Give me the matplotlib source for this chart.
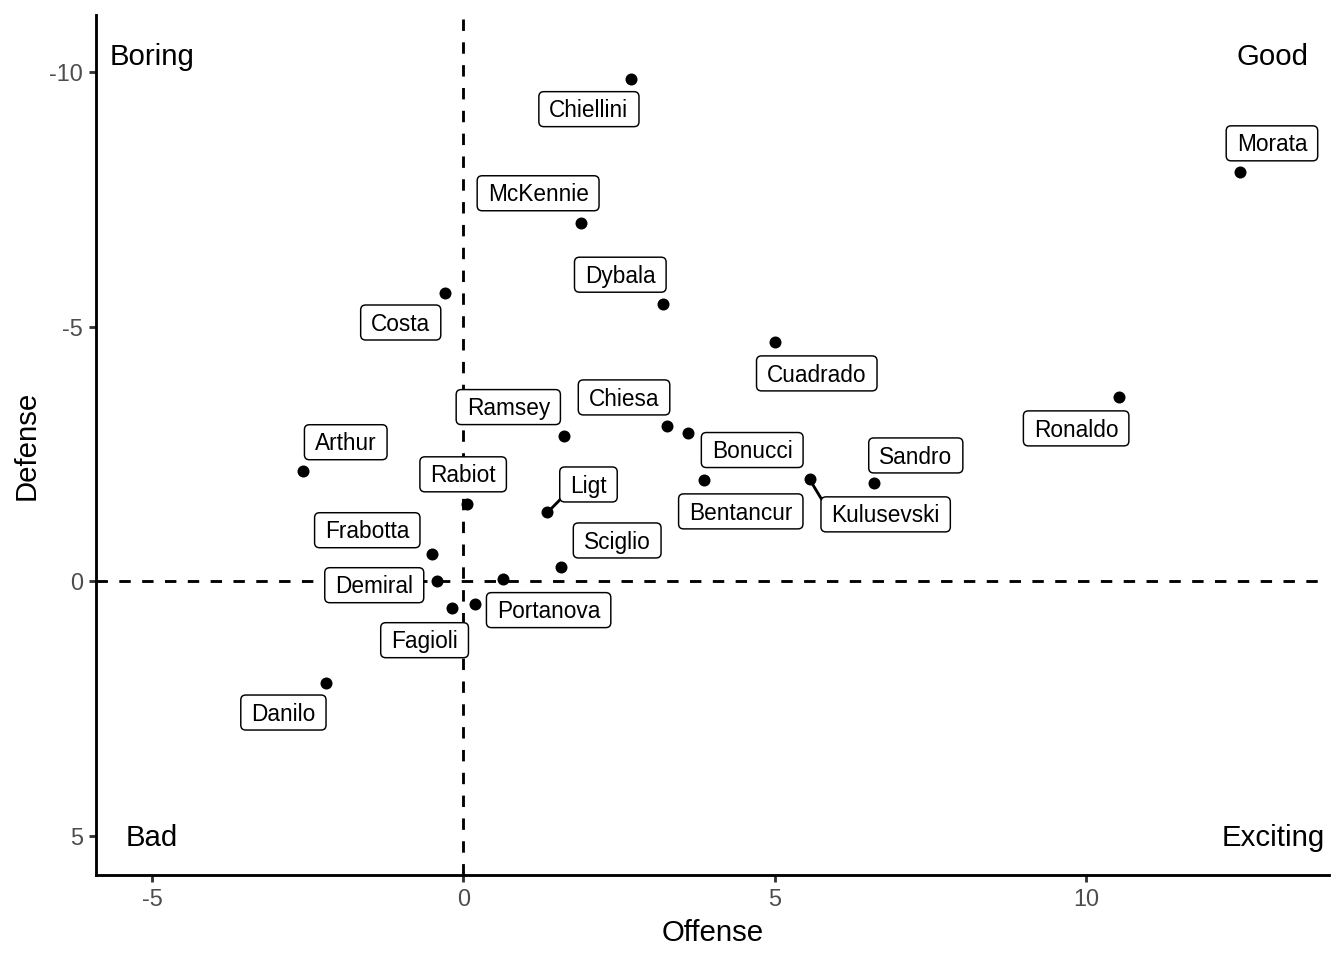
import matplotlib
matplotlib.use("Agg")
import matplotlib.pyplot as plt
from matplotlib.patches import FancyBboxPatch
from matplotlib.lines import Line2D
from matplotlib.transforms import IdentityTransform

plt.rcParams["font.family"] = ["Liberation Sans", "DejaVu Sans"]
plt.rcParams["axes.unicode_minus"] = False

# ---------------- data ----------------
players = ["Chiellini", "Morata", "McKennie", "Costa", "Dybala", "Cuadrado",
           "Ronaldo", "Ramsey", "Chiesa", "Bonucci", "Arthur", "Bentancur",
           "Kulusevski", "Sandro", "Rabiot", "Ligt", "Frabotta", "Sciglio",
           "Demiral", "", "Fagioli", "Portanova", "Danilo"]
offense = [2.69, 12.47, 1.89, -0.30, 3.21, 5.00,
           10.53, 1.62, 3.27, 3.61, -2.58, 3.86,
           5.56, 6.59, 0.06, 1.35, -0.50, 1.57,
           -0.42, 0.63, -0.19, 0.18, -2.20]
defense = [-9.86, -8.03, -7.03, -5.67, -5.45, -4.69,
           -3.61, -2.85, -3.04, -2.91, -2.16, -1.98,
           -2.00, -1.92, -1.51, -1.35, -0.53, -0.27,
           0.00, -0.04, 0.53, 0.45, 1.99]

quad_text = ["Boring", "Good", "Bad", "Exciting"]
quad_x = [-5, 13, -5, 13]
quad_y = [-10.35, -10.35, 5.0, 5.0]

x_ticks = [-5, 0, 5, 10]
y_ticks = [-10, -5, 0, 5]

# ---------------- layout (label placement, pixels: right, down) ----------------
label_offsets_px = {
    "Chiellini": (-42, 30), "Morata": (32, -29), "McKennie": (-43, -30),
    "Costa": (-44, 30), "Dybala": (-43, -29), "Cuadrado": (42, 31),
    "Ronaldo": (-43, 31), "Ramsey": (-56, -29), "Chiesa": (-43, -29),
    "Bonucci": (64, 17), "Arthur": (43, -29), "Bentancur": (37, 31),
    "Kulusevski": (76, 35), "Sandro": (42, -28), "Rabiot": (-4, -30),
    "Ligt": (41, -28), "Frabotta": (-65, -24), "Sciglio": (56, -27),
    "Demiral": (-63, 4), "Fagioli": (-27, 32), "Portanova": (74, 6),
    "Danilo": (-43, 30),
}
segment_players = {"Ligt", "Kulusevski"}

DPI = 192
W_PX, H_PX = 1344, 960
fig = plt.figure(figsize=(W_PX / DPI, H_PX / DPI), dpi=DPI)
ax = fig.add_axes([96 / W_PX, 85 / H_PX, (1329 - 96) / W_PX, (945 - 85) / H_PX])

XLIM = (-5.9, 13.9)
YLIM = (5.77, -11.12)

LW = 1.07
ax.axhline(0, color="black", lw=LW, ls=(0, (4, 4)), zorder=1)
ax.axvline(0, color="black", lw=LW, ls=(0, (4, 4)), zorder=1)
ax.scatter(offense, defense, s=4.5 ** 2, color="black", linewidths=0, zorder=3)

LABEL_FS = 8.5
PX2PT = 72 / DPI
texts = []
for name, x, y in zip(players, offense, defense):
    if not name:
        continue
    dx, dy = label_offsets_px[name]
    t = ax.annotate(name, xy=(x, y),
                    xytext=(dx * PX2PT, -dy * PX2PT - 0.358 * LABEL_FS),
                    textcoords="offset points", ha="center", va="baseline",
                    fontsize=LABEL_FS, color="black", zorder=6)
    texts.append((t, name, x, y))

for s, qx, qy in zip(quad_text, quad_x, quad_y):
    ax.annotate(s, xy=(qx, qy), xytext=(0, -0.358 * 11), textcoords="offset points",
                ha="center", va="baseline", fontsize=11, color="black")

ax.set_xlim(*XLIM)
ax.set_ylim(*YLIM)
ax.set_xticks(x_ticks)
ax.set_yticks(y_ticks)
ax.set_xticklabels([str(v) for v in x_ticks])
ax.set_yticklabels([str(v) for v in y_ticks])
for sp in ["top", "right"]:
    ax.spines[sp].set_visible(False)
for sp in ["left", "bottom"]:
    ax.spines[sp].set_linewidth(LW)
    ax.spines[sp].set_color("black")
ax.tick_params(axis="both", length=2.74, width=LW, color="#333333",
               labelcolor="#4D4D4D", labelsize=8.8, pad=2.2)
ax.set_xlabel("Offense", fontsize=11, labelpad=3)
ax.set_ylabel("Defense", fontsize=11, labelpad=3)

# boxes around labels
fig.canvas.draw()
renderer = fig.canvas.get_renderer()
BOX_H = 35
PAD_X = 10.5
for t, name, x, y in texts:
    bb = t.get_window_extent(renderer)
    px, py = ax.transData.transform((x, y))
    dx, dy = label_offsets_px[name]
    cx, cy = px + dx, py - dy
    w = bb.width + 2 * PAD_X
    x0, x1 = cx - w / 2, cx + w / 2
    y0, y1 = cy - BOX_H / 2, cy + BOX_H / 2
    box = FancyBboxPatch((x0, y0), w, BOX_H,
                         boxstyle="round,pad=0,rounding_size=5",
                         transform=IdentityTransform(), facecolor="white",
                         edgecolor="black", linewidth=0.55, zorder=5)
    ax.add_patch(box)
    if name in segment_players:
        ex = min(max(px, x0 + 1), x1 - 1)
        ey = min(max(py, y0 + 3), y1 - 3)
        ln = Line2D([px, ex], [py, ey], transform=IdentityTransform(),
                    color="black", lw=LW, zorder=4)
        ax.add_line(ln)

ax.set_xlim(*XLIM)
ax.set_ylim(*YLIM)
fig.savefig("out.png", dpi=DPI)
